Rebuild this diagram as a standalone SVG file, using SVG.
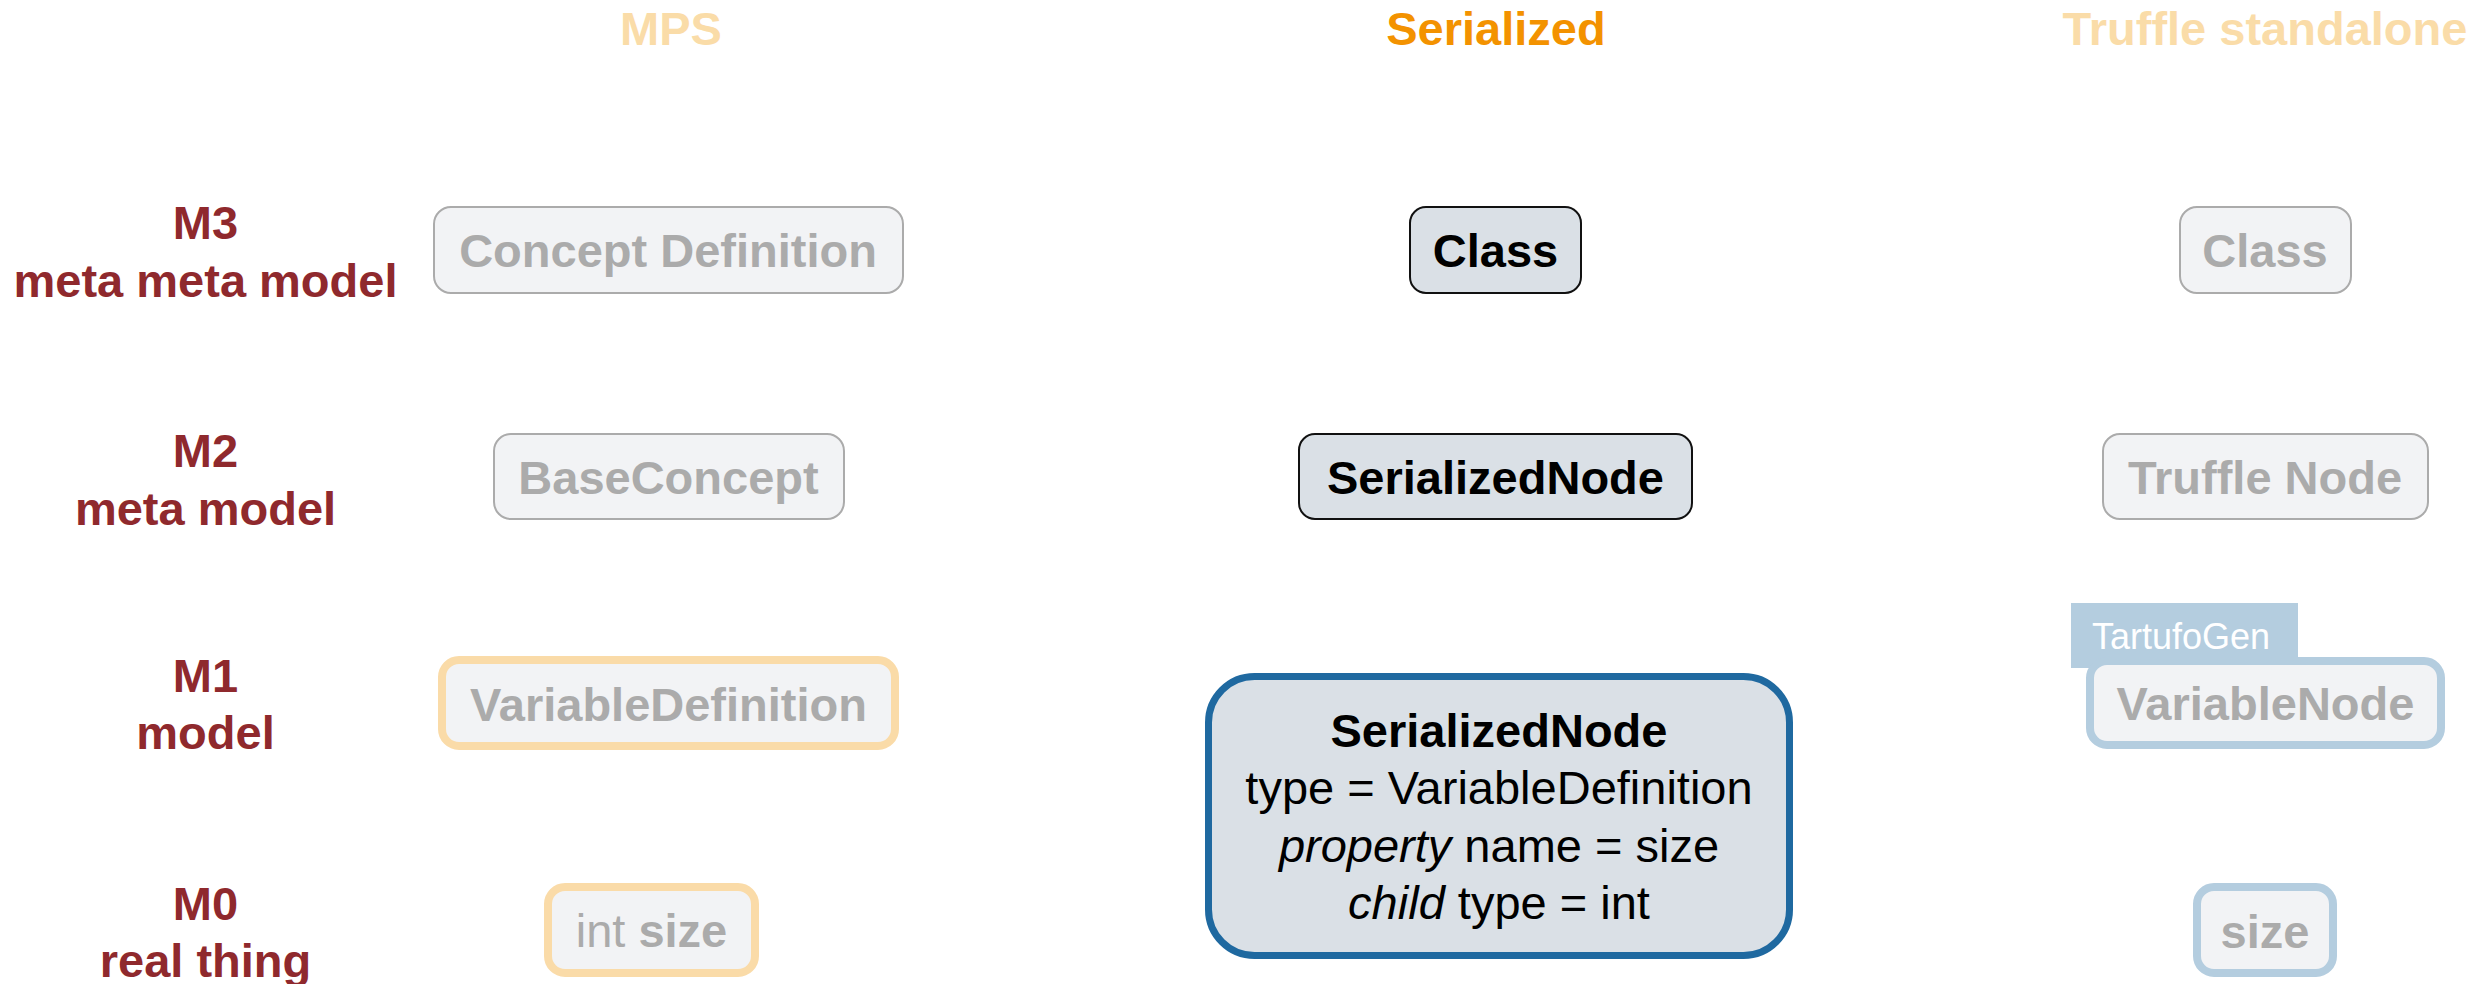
<svg xmlns="http://www.w3.org/2000/svg" width="2478" height="984" viewBox="0 0 2478 984">
  <style>
    text { font-family: "Liberation Sans", Arial, Helvetica, sans-serif; font-size: 47px; }
    .title { font-weight: bold; text-anchor: middle; }
    .title-dim { fill: #FADCA8; }
    .title-on { fill: #F39200; }
    .level { font-weight: bold; fill: #8F292D; text-anchor: middle; }
    .dim-box { fill: #F2F3F5; stroke: #ABABAB; stroke-width: 2; }
    .dim-text { fill: #ABABAB; font-weight: bold; text-anchor: middle; }
    .mps-inst { fill: #F2F3F5; stroke: #FADBA8; stroke-width: 8; }
    .truffle-inst { fill: #F2F3F5; stroke: #B4CDDF; stroke-width: 8; }
    .tag { fill: #B4CDDF; }
    .tag-text { fill: #FFFFFF; font-size: 36px; }
    .ser-box { fill: #DAE0E6; stroke: #111111; stroke-width: 2; }
    .ser-text { fill: #000000; font-weight: bold; text-anchor: middle; }
    .ser-main { fill: #DAE0E6; stroke: #1F69A0; stroke-width: 7; }
    .body { fill: #000000; text-anchor: middle; }
  </style>

  <rect width="2478" height="984" fill="#FFFFFF"/>

  <!-- column headings -->
  <g id="headings">
    <text class="title title-dim" x="671" y="45">MPS</text>
    <text class="title title-on" x="1496" y="45">Serialized</text>
    <text class="title title-dim" x="2265" y="45">Truffle standalone</text>
  </g>

  <!-- modelling levels -->
  <g id="levels">
    <text class="level" x="205.5" y="239">M3</text>
    <text class="level" x="205.5" y="297">meta meta model</text>
    <text class="level" x="205.5" y="467">M2</text>
    <text class="level" x="205.5" y="525">meta model</text>
    <text class="level" x="205.5" y="692">M1</text>
    <text class="level" x="205.5" y="749">model</text>
    <text class="level" x="205.5" y="920">M0</text>
    <text class="level" x="205.5" y="977">real thing</text>
  </g>

  <!-- MPS column -->
  <g id="mps-concept-definition">
    <rect class="dim-box" x="434" y="207" width="469" height="86" rx="17"/>
    <text class="dim-text" x="668" y="267">Concept Definition</text>
  </g>
  <g id="mps-base-concept">
    <rect class="dim-box" x="494" y="434" width="350" height="85" rx="17"/>
    <text class="dim-text" x="668.5" y="494">BaseConcept</text>
  </g>
  <g id="mps-variable-definition">
    <rect class="mps-inst" x="442" y="660" width="453" height="86" rx="17"/>
    <text class="dim-text" x="668.5" y="721">VariableDefinition</text>
  </g>
  <g id="mps-int-size">
    <rect class="mps-inst" x="548" y="887" width="207" height="86" rx="17"/>
    <text class="dim-text" x="651.5" y="947"><tspan font-weight="normal">int </tspan><tspan>size</tspan></text>
  </g>

  <!-- Serialized column -->
  <g id="ser-class">
    <rect class="ser-box" x="1410" y="207" width="171" height="86" rx="16"/>
    <text class="ser-text" x="1495.5" y="267">Class</text>
  </g>
  <g id="ser-serialized-node">
    <rect class="ser-box" x="1299" y="434" width="393" height="85" rx="16"/>
    <text class="ser-text" x="1495.5" y="494">SerializedNode</text>
  </g>
  <g id="ser-instance">
    <rect class="ser-main" x="1208.5" y="676.5" width="581" height="279" rx="46"/>
    <text class="ser-text" x="1499" y="747">SerializedNode</text>
    <text class="body" x="1499" y="804">type = VariableDefinition</text>
    <text class="body" x="1499" y="862"><tspan font-style="italic">property</tspan> name = size</text>
    <text class="body" x="1499" y="919"><tspan font-style="italic">child</tspan> type = int</text>
  </g>

  <!-- Truffle standalone column -->
  <g id="truffle-class">
    <rect class="dim-box" x="2180" y="207" width="171" height="86" rx="17"/>
    <text class="dim-text" x="2265" y="267">Class</text>
  </g>
  <g id="truffle-node">
    <rect class="dim-box" x="2103" y="434" width="325" height="85" rx="17"/>
    <text class="dim-text" x="2265" y="494">Truffle Node</text>
  </g>
  <g id="truffle-variable-node">
    <rect class="tag" x="2071" y="603" width="227" height="65"/>
    <text class="tag-text" x="2092" y="649">TartufoGen</text>
    <rect class="truffle-inst" x="2090" y="661" width="351" height="84" rx="17"/>
    <text class="dim-text" x="2265.5" y="720">VariableNode</text>
  </g>
  <g id="truffle-size">
    <rect class="truffle-inst" x="2197" y="887" width="136" height="86" rx="17"/>
    <text class="dim-text" x="2265" y="948">size</text>
  </g>
</svg>
